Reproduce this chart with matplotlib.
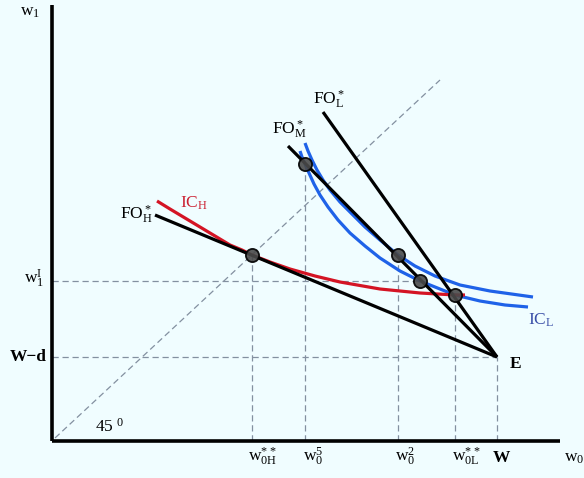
import matplotlib
matplotlib.use("Agg")
import matplotlib.pyplot as plt

plt.rcParams['font.family'] = ['Liberation Serif', 'DejaVu Serif']
plt.rcParams['mathtext.default'] = 'regular'
plt.rcParams['mathtext.fontset'] = 'custom'
plt.rcParams['mathtext.rm'] = 'Liberation Serif'

# ---- data (chart units: origin at axes corner) ----
E_pt = (445, 84)
foH_start = (103, 226)
foM_start = (236, 295)
foL_start = (271, 329)

icH_x = [105, 118, 133, 148, 163, 178, 190, 200, 218, 238, 263, 288, 328, 368, 403, 413]
icH_y = [240, 232, 223, 214, 205, 196, 191, 186, 179, 172, 165, 159, 152, 148, 146, 146]

icL_up_x = [253, 256, 260, 265, 271, 278, 288, 300, 313, 328, 346, 363, 383, 408, 438, 481]
icL_up_y = [298, 290, 281, 271, 261, 251, 239, 227, 214, 201, 186, 175, 165, 156, 150, 144]

icL_lo_x = [248, 250, 253, 257, 262, 268, 276, 286, 298, 313, 328, 348, 368, 388, 403, 428, 453, 476]
icL_lo_y = [290, 284, 277, 268, 257, 246, 234, 221, 208, 195, 183, 170, 160, 152, 146, 140, 136, 134]

dots_x = [200, 253, 346, 368, 403]
dots_y = [186, 277, 186, 160, 146]

vguide_x = [200, 253, 346, 403, 445]
vguide_top = [186, 277, 186, 146, 84]
hguide_y = [160, 84]
hguide_right = [368, 445]

diag_start = (3, 3)
diag_end = (388, 361)

xtick_labels = [r"w$_{0H}^{**}$", r"w$_0^5$", r"w$_0^2$", r"w$_{0L}^{**}$", "W", r"w$_0$"]
xtick_pos = [196, 251, 343, 400, 441, 512]

# ---- figure ----
W_PX, H_PX = 584, 478
fig = plt.figure(figsize=(W_PX / 100, H_PX / 100), dpi=100)
bg = '#F0FDFF'
fig.patch.set_facecolor(bg)
ax = fig.add_axes([0, 0, 1, 1])
ax.set_facecolor(bg)
ax.set_xlim(-52, 532)
ax.set_ylim(-37, 441)
ax.axis('off')

guide = dict(color='#8390a0', lw=0.9, ls=(0, (5, 3)))
for x, t in zip(vguide_x, vguide_top):
    ax.plot([x, x], [0, t], **guide)
for y, r in zip(hguide_y, hguide_right):
    ax.plot([0, r], [y, y], **guide)
ax.plot([diag_start[0], diag_end[0]], [diag_start[1], diag_end[1]], **guide)

# axes
ax.plot([0, 0], [0, 436], color='black', lw=2.6, solid_capstyle='butt')
ax.plot([0, 508], [0, 0], color='black', lw=2.6, solid_capstyle='butt')

curve_kw = dict(lw=2.3, solid_joinstyle='round', solid_capstyle='butt')
ax.plot(icL_up_x, icL_up_y, color='#1f62e8', **curve_kw)
ax.plot(icL_lo_x, icL_lo_y, color='#1f62e8', **curve_kw)
ax.plot(icH_x, icH_y, color='#d41424', **curve_kw)

for s in (foH_start, foM_start, foL_start):
    ax.plot([s[0], E_pt[0]], [s[1], E_pt[1]], color='black', **curve_kw)

ax.plot(dots_x, dots_y, ls='none', marker='o', ms=9.5, mfc='#4a4a4a', mec='black', mew=1.3, alpha=0.9)

fs = 12.5
ax.text(-22, 429, r"w$_1$", fontsize=fs, ha='center', va='center')
ax.text(-18, 162, r"w$_1^I$", fontsize=fs, ha='center', va='center')
ax.text(-24, 84, "W\u2212d", fontsize=fs, ha='center', va='center', fontweight='bold')
ax.text(43, 14, r"45 $^0$", fontsize=fs, ha='left', va='center')
ax.text(101, 221, r"FO$^*_H$", fontsize=fs, ha='right', va='baseline')
ax.text(128, 233, r"IC$_H$", fontsize=fs, ha='left', va='baseline', color='#cc2233')
ax.text(220, 306, r"FO$^*_M$", fontsize=fs, ha='left', va='baseline')
ax.text(261, 336, r"FO$^*_L$", fontsize=fs, ha='left', va='baseline')
ax.text(476, 116, r"IC$_L$", fontsize=fs, ha='left', va='baseline', color='#3a4fa8')
ax.text(458, 73, "E", fontsize=fs, ha='left', va='baseline', fontweight='bold')

for lab, x in zip(xtick_labels, xtick_pos):
    ax.text(x, -21, lab, fontsize=fs, ha='left', va='baseline',
            fontweight='bold' if lab == 'W' else 'normal')

fig.savefig('out.png', dpi=100, facecolor=bg)
